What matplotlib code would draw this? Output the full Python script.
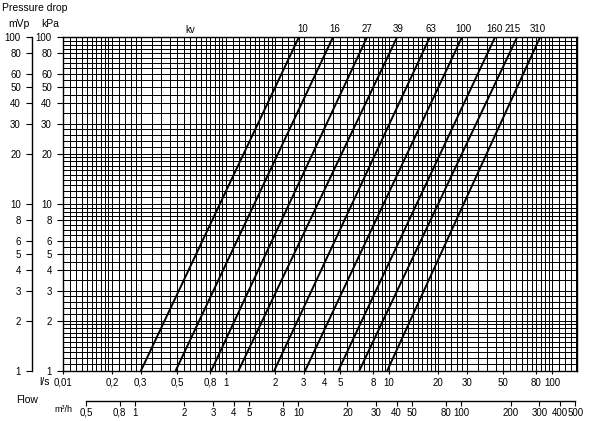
import numpy as np
import matplotlib
matplotlib.use("Agg")
import matplotlib.pyplot as plt
from matplotlib.ticker import FixedLocator, NullLocator, NullFormatter

plt.rcParams['font.family'] = ['Liberation Sans', 'DejaVu Sans']

# ---- data ----
kv_values = [10, 16, 27, 39, 63, 100, 160, 215, 310]
flow_at_1kpa = [0.30, 0.49, 0.81, 1.19, 1.97, 3.05, 4.87, 6.55, 9.72]      # l/s
flow_at_100kpa = [2.80, 4.53, 7.33, 11.2, 17.8, 28.0, 44.7, 61.0, 84.4]    # l/s
kv_label_shift = [1.5, 0, -1, 0, 0, 0, -1.5, -4, -3]                      # points

ls_ticks = [0.1, 0.2, 0.3, 0.5, 0.8, 1, 2, 3, 4, 5, 8, 10, 20, 30, 50, 80, 100]
ls_labels = ['0,01', '0,2', '0,3', '0,5', '0,8', '1', '2', '3', '4', '5', '8',
             '10', '20', '30', '50', '80', '100']
m3h_ticks = [0.5, 0.8, 1, 2, 3, 4, 5, 8, 10, 20, 30, 40, 50, 80, 100, 200, 300, 400, 500]
m3h_labels = ['0,5', '0,8', '1', '2', '3', '4', '5', '8', '10', '20', '30', '40',
              '50', '80', '100', '200', '300', '400', '500']
p_ticks = [1, 2, 3, 4, 5, 6, 8, 10, 20, 30, 40, 50, 60, 80, 100]
p_labels = [str(v) for v in p_ticks]

X_MIN, X_MAX = 0.1, 142.0
Y_MIN, Y_MAX = 1.0, 100.0
FS = 7

W, H = 590, 421
fig = plt.figure(figsize=(W / 100, H / 100), dpi=100)

L, R, T, B = 63, 577, 37, 371
ax = fig.add_axes([L / W, 1 - B / H, (R - L) / W, (B - T) / H])
ax.set_xscale('log')
ax.set_yscale('log')
ax.set_xlim(X_MIN, X_MAX)
ax.set_ylim(Y_MIN, Y_MAX)

# grid mantissas per decade
mant = list(np.round(np.arange(1.0, 2.0, 0.1), 2)) + [2.0, 2.2, 2.4, 2.6, 2.8] + \
       list(np.round(np.arange(3.0, 10.0, 0.5), 2))
for d in [0.1, 1, 10, 100]:
    for m in mant:
        v = m * d
        if X_MIN < v < X_MAX:
            ax.axvline(v, color='black', lw=0.72, zorder=1, antialiased=False)
for d in [1, 10]:
    for m in mant:
        v = m * d
        if Y_MIN < v < Y_MAX:
            ax.axhline(v, color='black', lw=0.72, zorder=1, antialiased=False)

for q1, q2 in zip(flow_at_1kpa, flow_at_100kpa):
    ax.plot([q1, q2], [Y_MIN, Y_MAX], color='black', lw=1.4, zorder=3,
            solid_capstyle='butt')

for kv, q2, sh in zip(kv_values, flow_at_100kpa, kv_label_shift):
    ax.annotate(str(kv), xy=(q2, Y_MAX), xytext=(sh + 1, 5.5),
                textcoords='offset points', ha='center', va='center',
                fontsize=FS, annotation_clip=False)

for s in ax.spines.values():
    s.set_linewidth(1.0)

ax.xaxis.set_major_locator(FixedLocator(ls_ticks))
ax.set_xticklabels(ls_labels)
ax.xaxis.set_minor_locator(NullLocator())
ax.xaxis.set_minor_formatter(NullFormatter())
ax.yaxis.set_major_locator(FixedLocator(p_ticks))
ax.set_yticklabels(p_labels)
ax.yaxis.set_minor_locator(NullLocator())
ax.yaxis.set_minor_formatter(NullFormatter())
ax.tick_params(axis='x', direction='out', length=2.5, width=0.8, pad=2.5, labelsize=FS)
ax.tick_params(axis='y', direction='out', length=4, width=0.8, pad=4, labelsize=FS)

# mVp axis
axm = fig.add_axes([32 / W, 1 - B / H, 0.001, (B - T) / H])
axm.set_yscale('log')
axm.set_ylim(Y_MIN, Y_MAX)
axm.patch.set_visible(False)
for k in ['right', 'top', 'bottom']:
    axm.spines[k].set_visible(False)
axm.spines['left'].set_linewidth(1.0)
axm.set_xticks([])
axm.yaxis.set_major_locator(FixedLocator(p_ticks))
axm.set_yticklabels(p_labels)
axm.yaxis.set_minor_locator(NullLocator())
axm.yaxis.set_minor_formatter(NullFormatter())
axm.tick_params(axis='y', direction='out', length=4, width=0.8, pad=4, labelsize=FS)

# m3/h axis
axf = fig.add_axes([L / W, 1 - 401 / H, (R - L) / W, 0.0001])
axf.set_xscale('log')
axf.set_xlim(X_MIN * 3.6, X_MAX * 3.6)
axf.patch.set_visible(False)
for k in ['right', 'top', 'left']:
    axf.spines[k].set_visible(False)
axf.spines['bottom'].set_bounds(m3h_ticks[0], m3h_ticks[-1])
axf.spines['bottom'].set_linewidth(1.0)
axf.set_yticks([])
axf.xaxis.set_major_locator(FixedLocator(m3h_ticks))
axf.set_xticklabels(m3h_labels)
axf.xaxis.set_minor_locator(NullLocator())
axf.xaxis.set_minor_formatter(NullFormatter())
axf.tick_params(axis='x', direction='out', length=3.5, width=0.8, pad=1.5, labelsize=FS)

def ftext(x, y, s, **kw):
    fig.text(x / W, 1 - y / H, s, **kw)

ftext(2, 8, 'Pressure drop', ha='left', va='center', fontsize=7.5)
ftext(19, 24, 'mVp', ha='center', va='center', fontsize=7.5)
ftext(50, 24, 'kPa', ha='center', va='center', fontsize=7.5)
ftext(190, 30, 'kv', ha='center', va='center', fontsize=FS)
ftext(44, 382, 'l/s', ha='center', va='center', fontsize=7.5)
ftext(27, 400, 'Flow', ha='center', va='center', fontsize=7.5)
ftext(63, 410, 'm³/h', ha='center', va='center', fontsize=6.5)

fig.savefig('out.png', dpi=100)
